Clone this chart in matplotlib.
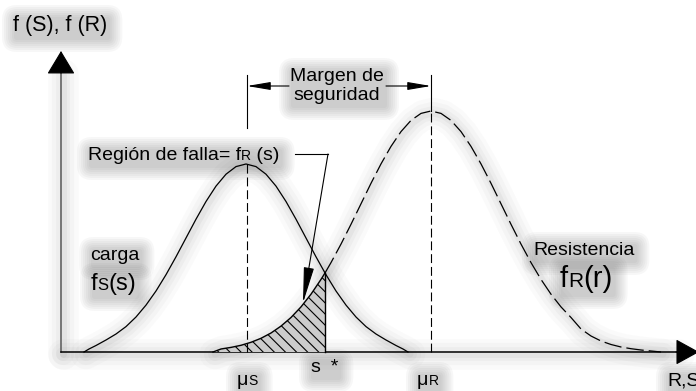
import numpy as np
import matplotlib
matplotlib.use('Agg')
import matplotlib.pyplot as plt
from matplotlib.patches import FancyBboxPatch
from matplotlib.transforms import Bbox

plt.rcParams['font.family'] = ['Liberation Sans', 'DejaVu Sans']
plt.rcParams['hatch.linewidth'] = 0.8

# load curve f_S(s) (x position, height above the R,S axis)
load_x = [84, 89, 96, 106, 116, 126, 136, 146, 156, 166, 176, 186, 196, 206, 216, 226, 236, 246,
          256, 266, 276, 286, 296, 306, 316, 326, 336, 346, 356, 366, 376, 386, 396, 403, 408]
load_y = [0, 3, 6.5, 12, 18, 25.4, 35, 46.9, 61, 77.3, 95.2, 114, 132.8, 150.5, 165.9, 177.8, 185.4, 188,
          185.4, 177.8, 165.9, 150.5, 132.8, 114, 95.2, 77.3, 61, 46.9, 35, 25.4, 18, 12, 6.5, 3, 0]

# resistance curve f_R(r)
res_x = [213, 221, 231, 241, 251, 261, 271, 281, 291, 301, 311, 321, 325, 331, 341, 351, 361, 371, 381,
         391, 401, 411, 421, 431, 441, 451, 461, 471, 481, 491, 501, 511, 521, 531, 541, 551, 561,
         571, 581, 591, 601, 611, 621, 631, 641, 651, 661]
res_y = [0, 3, 4.6, 6.7, 9.7, 13.7, 19, 25.9, 34.5, 45.1, 57.8, 72.6, 79, 89.4, 107.9, 127.7, 148.2, 168.7, 188.1,
         205.6, 220.4, 231.6, 238.6, 241, 238.6, 231.6, 220.4, 205.6, 188.1, 168.7, 148.2, 127.7, 107.9, 89.4, 72.6,
         57.8, 45.1, 34.5, 23, 16, 11, 7.5, 5, 3.3, 2, 1, 0]

mu_s = 247
mu_r = 431
s_star = 325
top_s = 188
top_r = 241

load_x = np.array(load_x); load_y = np.array(load_y)
res_x = np.array(res_x); res_y = np.array(res_y)

fig = plt.figure(figsize=(6.96, 3.91), dpi=100)
ax = fig.add_axes([0, 0, 1, 1])
ax.set_xlim(0, 696)
ax.set_ylim(-39, 352)
ax.axis('off')

glow_groups = []


def halo(x, y):
    # soft grey shadow drawn under a line
    for w, a in ((22, 0.025), (16, 0.03), (10, 0.04), (5, 0.05)):
        ax.plot(np.asarray(x) + 2, np.asarray(y) - 2, color='0.3', lw=w, alpha=a,
                solid_capstyle='round', solid_joinstyle='round', zorder=1)


def label(x, y, parts, **kw):
    # parts: list of (text, size); drawn left to right on one baseline
    prev = ax.text(x, y, parts[0][0], fontsize=parts[0][1], ha='left', va='baseline', zorder=5, **kw)
    group = [prev]
    for s, size in parts[1:]:
        prev = ax.annotate(s, xy=(1, y), xycoords=(prev, 'data'), fontsize=size,
                           ha='left', va='baseline', zorder=5, annotation_clip=False)
        group.append(prev)
    glow_groups.append(group)


# axes with arrows
halo([61, 61], [0, 280])
halo([61, 677], [0, 0])
ax.plot([61, 61], [0, 280], color='0.35', lw=1.1)
ax.plot([61, 677], [0, 0], color='k', lw=1.1)
ax.annotate('', xy=(61, 301), xytext=(61, 279), annotation_clip=False,
            arrowprops=dict(arrowstyle='-|>,head_length=1.0,head_width=0.6', mutation_scale=15,
                            fc='k', ec='k', lw=0.8, shrinkA=0, shrinkB=0))
ax.annotate('', xy=(699, 0), xytext=(676, 0), annotation_clip=False,
            arrowprops=dict(arrowstyle='-|>,head_length=1.0,head_width=0.55', mutation_scale=15,
                            fc='k', ec='k', lw=0.8, shrinkA=0, shrinkB=0))

# curves
halo(load_x, load_y)
halo(res_x, res_y)
ax.plot(load_x, load_y, color='k', lw=0.9, zorder=3)
right = res_x >= s_star
ax.plot(res_x[right], res_y[right], color='k', lw=0.9, dashes=(14, 4), zorder=3)

# hatched failure region under f_R up to s*
left = res_x <= s_star
ax.fill_between(res_x[left], 0, res_y[left], facecolor='0.8', edgecolor='k', hatch='\\\\\\', lw=0, zorder=2)
ax.plot(res_x[left], res_y[left], color='k', lw=1.0, zorder=3)
ax.plot([s_star, s_star], [0, res_y[res_x == s_star][0]], color='k', lw=1.0, zorder=3)

# mean lines
ax.plot([mu_s, mu_s], [0, top_s], color='k', lw=0.8, dashes=(8, 3.5), zorder=3)
ax.plot([mu_r, mu_r], [0, top_r], color='k', lw=0.8, dashes=(8, 3.5), zorder=3)
ax.plot([mu_s, mu_s], [224, 277], color='k', lw=0.8)
ax.plot([mu_r, mu_r], [top_r, 277], color='k', lw=0.8)

# safety margin arrows
margin = ax.text(337, 266, 'Margen de\nseguridad', fontsize=14, ha='center', va='center',
                 linespacing=1.15, zorder=5)
glow_groups.append([margin])
ax.annotate('', xy=(mu_s, 266), xytext=(289, 266),
            arrowprops=dict(arrowstyle='-|>,head_length=1.3,head_width=0.22', mutation_scale=11,
                            fc='k', ec='k', lw=0.8, shrinkA=0, shrinkB=0))
ax.annotate('', xy=(mu_r, 266), xytext=(386, 266),
            arrowprops=dict(arrowstyle='-|>,head_length=1.3,head_width=0.22', mutation_scale=11,
                            fc='k', ec='k', lw=0.8, shrinkA=0, shrinkB=0))

# failure region leader
ax.plot([295, 328], [198, 198], color='k', lw=0.8)
ax.annotate('', xy=(303, 49), xytext=(328, 198),
            arrowprops=dict(arrowstyle='-|>,head_length=1.4,head_width=0.2', mutation_scale=16,
                            fc='k', ec='k', lw=0.8, shrinkA=0, shrinkB=0))

# labels
label(13, 321, [('f (S), f (R)', 15.5)])
label(88, 192, [('Región de falla= f', 14), ('R', 10), (' (s)', 14)])
label(90, 92, [('carga', 14)])
label(91, 62, [('f', 17), ('S', 12), ('(s)', 17)])
label(533, 97, [('Resistencia', 14)])
label(560, 65, [('f', 21), ('R', 15), ('(r)', 21)])
label(237, -33, [('μ', 14), ('S', 10)])
label(310, -20, [('s', 14), ('  *', 14)])
label(417, -33, [('μ', 14), ('R', 10)])
label(667, -33, [('R,S', 14)])

# blurred grey boxes behind the labels
fig.canvas.draw()
renderer = fig.canvas.get_renderer()
inv = ax.transData.inverted()
for group in glow_groups:
    bb = Bbox.union([t.get_window_extent(renderer) for t in group])
    bb = inv.transform_bbox(bb)
    for pad in (13, 11, 9, 7, 5, 3, 1):
        ax.add_patch(FancyBboxPatch((bb.x0 + 2, bb.y0 - 3), bb.width, bb.height,
                                    boxstyle='round,pad=%d,rounding_size=%d' % (pad, pad + 2),
                                    fc='0.3', ec='none', alpha=0.045, zorder=0.5))

fig.savefig('out.png', dpi=100)
